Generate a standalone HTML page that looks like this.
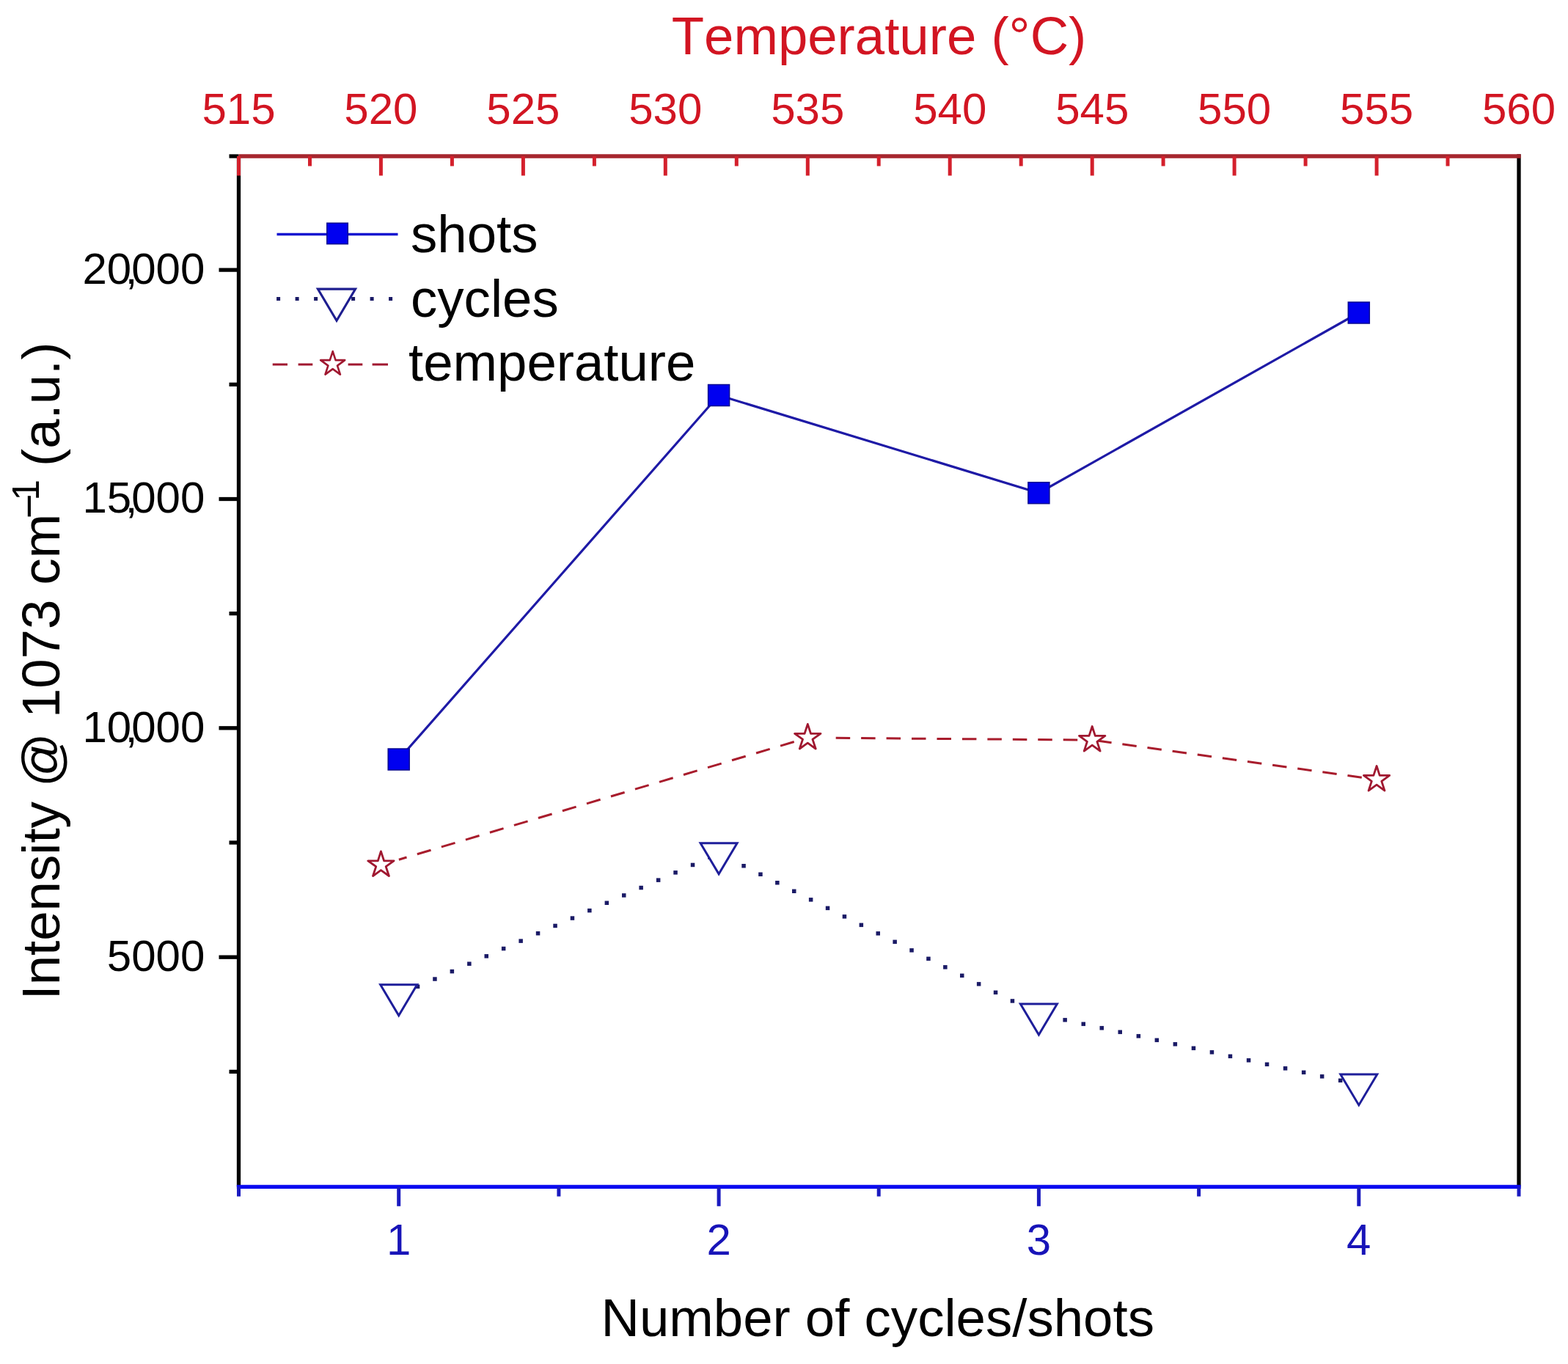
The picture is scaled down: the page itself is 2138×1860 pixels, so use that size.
<!DOCTYPE html>
<html><head><meta charset="utf-8"><title>Intensity vs cycles/shots</title>
<style>html,body{margin:0;padding:0;background:#fff;}svg{display:block;}text{font-kerning:none;}</style>
</head><body>
<svg width="2138" height="1860" viewBox="0 0 2138 1860">
<rect x="0" y="0" width="2138" height="1860" fill="#ffffff"/>
<text x="915.7" y="74.2" font-size="72.6" fill="#d21522" font-family="&apos;Liberation Sans&apos;, Arial, sans-serif">Temperature (°C)</text>
<text x="819.5" y="1821.8" font-size="72.6" fill="#000" font-family="&apos;Liberation Sans&apos;, Arial, sans-serif">Number of cycles/shots</text>
<g transform="translate(81.3,1363.5) rotate(-90)" fill="#000" font-family="&apos;Liberation Sans&apos;, Arial, sans-serif"><text x="0" y="0" font-size="72.6">Intensity @ 1073 cm</text><text x="656.2" y="-22.1" font-size="58">−</text><text x="680.8" y="-28.1" font-size="51.7">1</text><text x="727.5" y="0" font-size="72.6">(a.u.)</text></g>
<text x="325.5" y="168.6" font-size="60" fill="#d21522" text-anchor="middle" font-family="&apos;Liberation Sans&apos;, Arial, sans-serif">515</text>
<text x="519.4" y="168.6" font-size="60" fill="#d21522" text-anchor="middle" font-family="&apos;Liberation Sans&apos;, Arial, sans-serif">520</text>
<text x="713.4" y="168.6" font-size="60" fill="#d21522" text-anchor="middle" font-family="&apos;Liberation Sans&apos;, Arial, sans-serif">525</text>
<text x="907.3" y="168.6" font-size="60" fill="#d21522" text-anchor="middle" font-family="&apos;Liberation Sans&apos;, Arial, sans-serif">530</text>
<text x="1101.3" y="168.6" font-size="60" fill="#d21522" text-anchor="middle" font-family="&apos;Liberation Sans&apos;, Arial, sans-serif">535</text>
<text x="1295.2" y="168.6" font-size="60" fill="#d21522" text-anchor="middle" font-family="&apos;Liberation Sans&apos;, Arial, sans-serif">540</text>
<text x="1489.2" y="168.6" font-size="60" fill="#d21522" text-anchor="middle" font-family="&apos;Liberation Sans&apos;, Arial, sans-serif">545</text>
<text x="1683.1" y="168.6" font-size="60" fill="#d21522" text-anchor="middle" font-family="&apos;Liberation Sans&apos;, Arial, sans-serif">550</text>
<text x="1877.1" y="168.6" font-size="60" fill="#d21522" text-anchor="middle" font-family="&apos;Liberation Sans&apos;, Arial, sans-serif">555</text>
<text x="2071.0" y="168.6" font-size="60" fill="#d21522" text-anchor="middle" font-family="&apos;Liberation Sans&apos;, Arial, sans-serif">560</text>
<text x="279.3" y="386.8" font-size="60" fill="#000" text-anchor="end" font-family="&apos;Liberation Sans&apos;, Arial, sans-serif">20<tspan dx="-8.33">,</tspan><tspan dx="-8.33">000</tspan></text>
<text x="279.3" y="699.2" font-size="60" fill="#000" text-anchor="end" font-family="&apos;Liberation Sans&apos;, Arial, sans-serif">15<tspan dx="-8.33">,</tspan><tspan dx="-8.33">000</tspan></text>
<text x="279.3" y="1011.5" font-size="60" fill="#000" text-anchor="end" font-family="&apos;Liberation Sans&apos;, Arial, sans-serif">10<tspan dx="-8.33">,</tspan><tspan dx="-8.33">000</tspan></text>
<text x="279.3" y="1323.9" font-size="60" fill="#000" text-anchor="end" font-family="&apos;Liberation Sans&apos;, Arial, sans-serif">5000</text>
<text x="543.7" y="1711" font-size="60" fill="#1814b8" text-anchor="middle" font-family="&apos;Liberation Sans&apos;, Arial, sans-serif">1</text>
<text x="980.1" y="1711" font-size="60" fill="#1814b8" text-anchor="middle" font-family="&apos;Liberation Sans&apos;, Arial, sans-serif">2</text>
<text x="1416.4" y="1711" font-size="60" fill="#1814b8" text-anchor="middle" font-family="&apos;Liberation Sans&apos;, Arial, sans-serif">3</text>
<text x="1852.8" y="1711" font-size="60" fill="#1814b8" text-anchor="middle" font-family="&apos;Liberation Sans&apos;, Arial, sans-serif">4</text>
<line x1="325.5" y1="213" x2="325.5" y2="1618.3" stroke="#000" stroke-width="5.3"/>
<line x1="2071" y1="210.35" x2="2071" y2="1618.3" stroke="#000" stroke-width="5.3"/>
<line x1="312.5" y1="1461.4" x2="325.5" y2="1461.4" stroke="#000" stroke-width="5.3"/>
<line x1="298.5" y1="1305.2" x2="325.5" y2="1305.2" stroke="#000" stroke-width="5.3"/>
<line x1="312.5" y1="1149.0" x2="325.5" y2="1149.0" stroke="#000" stroke-width="5.3"/>
<line x1="298.5" y1="992.8" x2="325.5" y2="992.8" stroke="#000" stroke-width="5.3"/>
<line x1="312.5" y1="836.6" x2="325.5" y2="836.6" stroke="#000" stroke-width="5.3"/>
<line x1="298.5" y1="680.5" x2="325.5" y2="680.5" stroke="#000" stroke-width="5.3"/>
<line x1="312.5" y1="524.3" x2="325.5" y2="524.3" stroke="#000" stroke-width="5.3"/>
<line x1="298.5" y1="368.1" x2="325.5" y2="368.1" stroke="#000" stroke-width="5.3"/>
<line x1="312.5" y1="213.0" x2="325.5" y2="213.0" stroke="#000" stroke-width="5.3"/>
<line x1="325.5" y1="213" x2="2073.65" y2="213" stroke="#a6262e" stroke-width="5.3"/>
<line x1="325.5" y1="213" x2="325.5" y2="239.5" stroke="#d4202c" stroke-width="5"/>
<line x1="422.5" y1="213" x2="422.5" y2="226.5" stroke="#d4202c" stroke-width="5"/>
<line x1="519.4" y1="213" x2="519.4" y2="239.5" stroke="#d4202c" stroke-width="5"/>
<line x1="616.4" y1="213" x2="616.4" y2="226.5" stroke="#d4202c" stroke-width="5"/>
<line x1="713.4" y1="213" x2="713.4" y2="239.5" stroke="#d4202c" stroke-width="5"/>
<line x1="810.4" y1="213" x2="810.4" y2="226.5" stroke="#d4202c" stroke-width="5"/>
<line x1="907.3" y1="213" x2="907.3" y2="239.5" stroke="#d4202c" stroke-width="5"/>
<line x1="1004.3" y1="213" x2="1004.3" y2="226.5" stroke="#d4202c" stroke-width="5"/>
<line x1="1101.3" y1="213" x2="1101.3" y2="239.5" stroke="#d4202c" stroke-width="5"/>
<line x1="1198.2" y1="213" x2="1198.2" y2="226.5" stroke="#d4202c" stroke-width="5"/>
<line x1="1295.2" y1="213" x2="1295.2" y2="239.5" stroke="#d4202c" stroke-width="5"/>
<line x1="1392.2" y1="213" x2="1392.2" y2="226.5" stroke="#d4202c" stroke-width="5"/>
<line x1="1489.2" y1="213" x2="1489.2" y2="239.5" stroke="#d4202c" stroke-width="5"/>
<line x1="1586.1" y1="213" x2="1586.1" y2="226.5" stroke="#d4202c" stroke-width="5"/>
<line x1="1683.1" y1="213" x2="1683.1" y2="239.5" stroke="#d4202c" stroke-width="5"/>
<line x1="1780.1" y1="213" x2="1780.1" y2="226.5" stroke="#d4202c" stroke-width="5"/>
<line x1="1877.1" y1="213" x2="1877.1" y2="239.5" stroke="#d4202c" stroke-width="5"/>
<line x1="1974.0" y1="213" x2="1974.0" y2="226.5" stroke="#d4202c" stroke-width="5"/>
<line x1="322.85" y1="1618.3" x2="2073.65" y2="1618.3" stroke="#0a0af0" stroke-width="5.3"/>
<line x1="325.5" y1="1618.3" x2="325.5" y2="1631.5" stroke="#1a1ac0" stroke-width="5"/>
<line x1="543.7" y1="1618.3" x2="543.7" y2="1644.8" stroke="#1a1ac0" stroke-width="5"/>
<line x1="761.9" y1="1618.3" x2="761.9" y2="1631.5" stroke="#1a1ac0" stroke-width="5"/>
<line x1="980.1" y1="1618.3" x2="980.1" y2="1644.8" stroke="#1a1ac0" stroke-width="5"/>
<line x1="1198.2" y1="1618.3" x2="1198.2" y2="1631.5" stroke="#1a1ac0" stroke-width="5"/>
<line x1="1416.4" y1="1618.3" x2="1416.4" y2="1644.8" stroke="#1a1ac0" stroke-width="5"/>
<line x1="1634.6" y1="1618.3" x2="1634.6" y2="1631.5" stroke="#1a1ac0" stroke-width="5"/>
<line x1="1852.8" y1="1618.3" x2="1852.8" y2="1644.8" stroke="#1a1ac0" stroke-width="5"/>
<line x1="2071.0" y1="1618.3" x2="2071.0" y2="1631.5" stroke="#1a1ac0" stroke-width="5"/>
<line x1="543.88" y1="1172.21" x2="1101.28" y2="1006.00" stroke="#a81c2c" stroke-width="3" stroke-dasharray="19.5 14.95" stroke-dashoffset="8.40"/>
<line x1="1131.28" y1="1006.24" x2="1489.17" y2="1009.10" stroke="#a81c2c" stroke-width="3" stroke-dasharray="19.5 14.95" stroke-dashoffset="26.05"/>
<line x1="1489.17" y1="1009.10" x2="1877.06" y2="1063.10" stroke="#a81c2c" stroke-width="3" stroke-dasharray="19.5 14.95" stroke-dashoffset="27.30"/>
<rect x="543.3" y="1353.0" width="5.5" height="5.5" fill="#1a1a66"/>
<rect x="566.8" y="1342.6" width="5.5" height="5.5" fill="#1a1a66"/>
<rect x="590.2" y="1332.3" width="5.5" height="5.5" fill="#1a1a66"/>
<rect x="613.6" y="1321.9" width="5.5" height="5.5" fill="#1a1a66"/>
<rect x="637.1" y="1311.5" width="5.5" height="5.5" fill="#1a1a66"/>
<rect x="660.5" y="1301.1" width="5.5" height="5.5" fill="#1a1a66"/>
<rect x="683.9" y="1290.8" width="5.5" height="5.5" fill="#1a1a66"/>
<rect x="707.4" y="1280.4" width="5.5" height="5.5" fill="#1a1a66"/>
<rect x="730.8" y="1270.0" width="5.5" height="5.5" fill="#1a1a66"/>
<rect x="754.3" y="1259.7" width="5.5" height="5.5" fill="#1a1a66"/>
<rect x="777.7" y="1249.3" width="5.5" height="5.5" fill="#1a1a66"/>
<rect x="801.1" y="1238.9" width="5.5" height="5.5" fill="#1a1a66"/>
<rect x="824.6" y="1228.5" width="5.5" height="5.5" fill="#1a1a66"/>
<rect x="848.0" y="1218.2" width="5.5" height="5.5" fill="#1a1a66"/>
<rect x="871.4" y="1207.8" width="5.5" height="5.5" fill="#1a1a66"/>
<rect x="894.9" y="1197.4" width="5.5" height="5.5" fill="#1a1a66"/>
<rect x="918.3" y="1187.1" width="5.5" height="5.5" fill="#1a1a66"/>
<rect x="941.8" y="1176.7" width="5.5" height="5.5" fill="#1a1a66"/>
<rect x="965.2" y="1166.3" width="5.5" height="5.5" fill="#1a1a66"/>
<rect x="988.4" y="1166.5" width="5.5" height="5.5" fill="#1a1a66"/>
<rect x="1011.3" y="1178.0" width="5.5" height="5.5" fill="#1a1a66"/>
<rect x="1034.2" y="1189.5" width="5.5" height="5.5" fill="#1a1a66"/>
<rect x="1057.1" y="1201.0" width="5.5" height="5.5" fill="#1a1a66"/>
<rect x="1080.0" y="1212.5" width="5.5" height="5.5" fill="#1a1a66"/>
<rect x="1102.9" y="1224.1" width="5.5" height="5.5" fill="#1a1a66"/>
<rect x="1125.8" y="1235.6" width="5.5" height="5.5" fill="#1a1a66"/>
<rect x="1148.7" y="1247.1" width="5.5" height="5.5" fill="#1a1a66"/>
<rect x="1171.6" y="1258.6" width="5.5" height="5.5" fill="#1a1a66"/>
<rect x="1194.5" y="1270.1" width="5.5" height="5.5" fill="#1a1a66"/>
<rect x="1217.4" y="1281.6" width="5.5" height="5.5" fill="#1a1a66"/>
<rect x="1240.3" y="1293.1" width="5.5" height="5.5" fill="#1a1a66"/>
<rect x="1263.2" y="1304.6" width="5.5" height="5.5" fill="#1a1a66"/>
<rect x="1286.1" y="1316.1" width="5.5" height="5.5" fill="#1a1a66"/>
<rect x="1309.0" y="1327.6" width="5.5" height="5.5" fill="#1a1a66"/>
<rect x="1331.9" y="1339.1" width="5.5" height="5.5" fill="#1a1a66"/>
<rect x="1354.8" y="1350.6" width="5.5" height="5.5" fill="#1a1a66"/>
<rect x="1377.7" y="1362.2" width="5.5" height="5.5" fill="#1a1a66"/>
<rect x="1400.6" y="1373.7" width="5.5" height="5.5" fill="#1a1a66"/>
<rect x="1424.4" y="1382.6" width="5.5" height="5.5" fill="#1a1a66"/>
<rect x="1449.4" y="1388.1" width="5.5" height="5.5" fill="#1a1a66"/>
<rect x="1474.5" y="1393.6" width="5.5" height="5.5" fill="#1a1a66"/>
<rect x="1499.5" y="1399.1" width="5.5" height="5.5" fill="#1a1a66"/>
<rect x="1524.5" y="1404.6" width="5.5" height="5.5" fill="#1a1a66"/>
<rect x="1549.6" y="1410.1" width="5.5" height="5.5" fill="#1a1a66"/>
<rect x="1574.6" y="1415.6" width="5.5" height="5.5" fill="#1a1a66"/>
<rect x="1599.6" y="1421.1" width="5.5" height="5.5" fill="#1a1a66"/>
<rect x="1624.7" y="1426.6" width="5.5" height="5.5" fill="#1a1a66"/>
<rect x="1649.7" y="1432.1" width="5.5" height="5.5" fill="#1a1a66"/>
<rect x="1674.7" y="1437.6" width="5.5" height="5.5" fill="#1a1a66"/>
<rect x="1699.8" y="1443.1" width="5.5" height="5.5" fill="#1a1a66"/>
<rect x="1724.8" y="1448.6" width="5.5" height="5.5" fill="#1a1a66"/>
<rect x="1749.8" y="1454.1" width="5.5" height="5.5" fill="#1a1a66"/>
<rect x="1774.9" y="1459.6" width="5.5" height="5.5" fill="#1a1a66"/>
<rect x="1799.9" y="1465.1" width="5.5" height="5.5" fill="#1a1a66"/>
<rect x="1824.9" y="1470.6" width="5.5" height="5.5" fill="#1a1a66"/>
<rect x="1850.0" y="1476.1" width="5.5" height="5.5" fill="#1a1a66"/>
<polyline points="543.7,1035.5 980.1,539.0 1416.4,672.2 1852.8,426.5" fill="none" stroke="#1e1aa6" stroke-width="3.2"/>
<polygon points="519.4,1160.9 523.6,1173.8 537.1,1173.8 526.2,1181.7 530.4,1194.5 519.4,1186.6 508.5,1194.5 512.7,1181.7 501.8,1173.8 515.3,1173.8" fill="#fff" stroke="#a01830" stroke-width="2.8" stroke-linejoin="round"/>
<polygon points="1101.3,987.4 1105.5,1000.3 1119.0,1000.3 1108.0,1008.2 1112.2,1021.0 1101.3,1013.1 1090.3,1021.0 1094.5,1008.2 1083.6,1000.3 1097.1,1000.3" fill="#fff" stroke="#a01830" stroke-width="2.8" stroke-linejoin="round"/>
<polygon points="1489.2,990.5 1493.3,1003.4 1506.9,1003.4 1495.9,1011.3 1500.1,1024.1 1489.2,1016.2 1478.2,1024.1 1482.4,1011.3 1471.5,1003.4 1485.0,1003.4" fill="#fff" stroke="#a01830" stroke-width="2.8" stroke-linejoin="round"/>
<polygon points="1877.1,1044.5 1881.2,1057.4 1894.7,1057.4 1883.8,1065.3 1888.0,1078.1 1877.1,1070.2 1866.1,1078.1 1870.3,1065.3 1859.4,1057.4 1872.9,1057.4" fill="#fff" stroke="#a01830" stroke-width="2.8" stroke-linejoin="round"/>
<polygon points="518.7,1342.8 568.7,1342.8 543.7,1384.8" fill="#fff" stroke="#1e1e9a" stroke-width="3" stroke-linejoin="miter"/>
<polygon points="955.1,1149.7 1005.1,1149.7 980.1,1191.7" fill="#fff" stroke="#1e1e9a" stroke-width="3" stroke-linejoin="miter"/>
<polygon points="1391.4,1369.0 1441.4,1369.0 1416.4,1411.0" fill="#fff" stroke="#1e1e9a" stroke-width="3" stroke-linejoin="miter"/>
<polygon points="1827.8,1464.9 1877.8,1464.9 1852.8,1506.9" fill="#fff" stroke="#1e1e9a" stroke-width="3" stroke-linejoin="miter"/>
<rect x="529.2" y="1021.0" width="29" height="29" fill="#0000f0" stroke="#0a0a90" stroke-width="1.5"/>
<rect x="965.6" y="524.5" width="29" height="29" fill="#0000f0" stroke="#0a0a90" stroke-width="1.5"/>
<rect x="1401.9" y="657.7" width="29" height="29" fill="#0000f0" stroke="#0a0a90" stroke-width="1.5"/>
<rect x="1838.3" y="412.0" width="29" height="29" fill="#0000f0" stroke="#0a0a90" stroke-width="1.5"/>
<line x1="377.5" y1="319.5" x2="542.5" y2="319.5" stroke="#1515d0" stroke-width="3.6"/>
<rect x="445.8" y="304.2" width="28.5" height="28.5" fill="#0000f0" stroke="#0a0a90" stroke-width="1.5"/>
<rect x="377.1" y="405" width="5" height="5" fill="#1a1a66"/>
<rect x="402.6" y="405" width="5" height="5" fill="#1a1a66"/>
<rect x="428.1" y="405" width="5" height="5" fill="#1a1a66"/>
<rect x="453.6" y="405" width="5" height="5" fill="#1a1a66"/>
<rect x="479.1" y="405" width="5" height="5" fill="#1a1a66"/>
<rect x="504.6" y="405" width="5" height="5" fill="#1a1a66"/>
<rect x="530.1" y="405" width="5" height="5" fill="#1a1a66"/>
<polygon points="433.5,394.2 484.5,394.2 459.0,437.2" fill="#fff" stroke="#1e1e90" stroke-width="3.2" stroke-linejoin="miter"/>
<line x1="371.7" y1="497" x2="392" y2="497" stroke="#a01830" stroke-width="3"/>
<line x1="406.6" y1="497" x2="426.3" y2="497" stroke="#a01830" stroke-width="3"/>
<line x1="474.6" y1="497" x2="494.3" y2="497" stroke="#a01830" stroke-width="3"/>
<line x1="507.6" y1="497" x2="529" y2="497" stroke="#a01830" stroke-width="3"/>
<polygon points="453.7,479.1 457.6,491.1 470.2,491.1 460.0,498.6 463.9,510.6 453.7,503.1 443.5,510.6 447.4,498.6 437.2,491.1 449.8,491.1" fill="#fff" stroke="#a01830" stroke-width="2.6" stroke-linejoin="round"/>
<text x="560" y="344" font-size="72.6" fill="#000" font-family="&apos;Liberation Sans&apos;, Arial, sans-serif">shots</text>
<text x="560" y="431.6" font-size="72.6" fill="#000" font-family="&apos;Liberation Sans&apos;, Arial, sans-serif">cycles</text>
<text x="557" y="518.6" font-size="72.6" fill="#000" font-family="&apos;Liberation Sans&apos;, Arial, sans-serif">temperature</text>
</svg>
</body></html>
